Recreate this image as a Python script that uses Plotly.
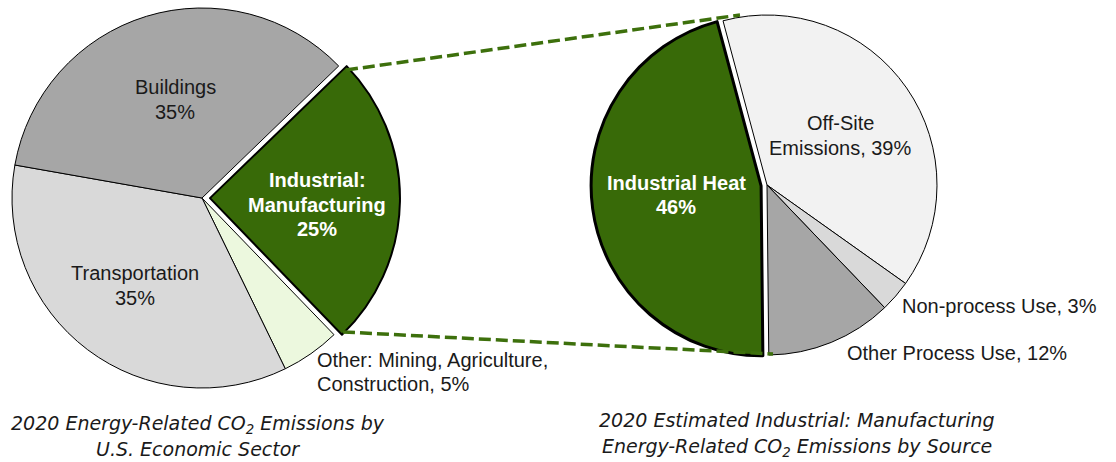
import plotly.graph_objects as go

W, H = 1116, 462

# ---------------- data ----------------
left_labels = ["Industrial:<br>Manufacturing", "Other: Mining, Agriculture,<br>Construction",
               "Transportation", "Buildings"]
left_values = [25, 5, 35, 35]
left_joins = ["<br>", ", ", "<br>", "<br>"]
left_colors = ["#386a08", "#ecf8de", "#d9d9d9", "#a6a6a6"]

right_labels = ["Off-Site<br>Emissions", "Non-process Use", "Other Process Use", "Industrial Heat"]
right_values = [39, 3, 12, 46]
right_joins = [", ", ", ", ", ", "<br>"]
right_colors = ["#f2f2f2", "#d9d9d9", "#a6a6a6", "#386a08"]

left_title = ["2020 Energy-Related CO<sub>2</sub> Emissions by", "U.S. Economic Sector"]
right_title = ["2020 Estimated Industrial: Manufacturing",
               "Energy-Related CO<sub>2</sub> Emissions by Source"]

# ---------------- layout helpers ----------------
def px(x):
    return x / W

def py(y):
    return 1 - y / H

FONT = "Liberation Sans, Arial, sans-serif"
TITLE_FONT = "DejaVu Sans, Verdana, sans-serif"

# pie geometry (pixels)
L_CX, L_CY, L_R, L_PULL = 202, 198, 190, 0.042
R_CX, R_CY, R_R, R_PULL = 767, 185, 170, 0.035

def domain(cx, cy, r, pull):
    half = r * (1 + pull)
    return dict(x=[px(cx - half), px(cx + half)], y=[py(cy + half), py(cy - half)])

fig = go.Figure()

fig.add_trace(go.Pie(
    labels=left_labels, values=left_values, sort=False, direction="clockwise",
    rotation=46, textinfo="none", hoverinfo="label+percent",
    pull=[L_PULL, 0, 0, 0],
    marker=dict(colors=left_colors, line=dict(color=["#000000"] * 4, width=[2, 1, 1, 1])),
    domain=domain(L_CX, L_CY, L_R, L_PULL), showlegend=False,
))

fig.add_trace(go.Pie(
    labels=right_labels, values=right_values, sort=False, direction="clockwise",
    rotation=345, textinfo="none", hoverinfo="label+percent",
    pull=[0, 0, 0, R_PULL],
    marker=dict(colors=right_colors, line=dict(color=["#000000"] * 4, width=[1, 1, 1, 3])),
    domain=domain(R_CX, R_CY, R_R, R_PULL), showlegend=False,
))

# ---------------- labels ----------------
def label_text(labels, values, joins, i):
    return f"{labels[i]}{joins[i]}{values[i]}%"

# (index, x, first line y, line step, xanchor, bold/white)
left_pos = [(0, 317, 180, 24.5, "center", True), (1, 315, 360, 24, "left", False),
            (2, 135, 273, 25, "center", False), (3, 175, 87, 25, "center", False)]
right_pos = [(0, 840, 123, 25, "center", False), (1, 900, 305.5, 25, "left", False),
             (2, 845, 352.5, 25, "left", False), (3, 676, 182.5, 25, "center", True)]

annotations = []
for (labels, values, joins, pos) in [(left_labels, left_values, left_joins, left_pos),
                                      (right_labels, right_values, right_joins, right_pos)]:
    for i, x, y0, step, xa, bold in pos:
        lines = label_text(labels, values, joins, i).split("<br>")
        for k, ln in enumerate(lines):
            t = f"<b>{ln}</b>" if bold else ln
            annotations.append(dict(
                x=px(x), y=py(y0 + k * step), xref="paper", yref="paper", text=t,
                showarrow=False, xanchor=xa, yanchor="middle",
                font=dict(family=FONT, size=20, color="#ffffff" if bold else "#1a1a1a"),
            ))

for lines, x, y0, step in [(left_title, 198, 424, 25), (right_title, 797, 420, 27)]:
    for k, ln in enumerate(lines):
        annotations.append(dict(
            x=px(x), y=py(y0 + k * step), xref="paper", yref="paper", text=f"<i>{ln}</i>",
            showarrow=False, xanchor="center", yanchor="middle",
            font=dict(family=TITLE_FONT, size=19, color="#1a1a1a"),
        ))

# ---------------- connector lines ----------------
shapes = []
for (x0, y0, x1, y1) in [(346, 70, 740, 15), (343, 332, 773, 354)]:
    shapes.append(dict(type="line", xref="paper", yref="paper",
                       x0=px(x0), y0=py(y0), x1=px(x1), y1=py(y1),
                       line=dict(color="#3d700c", width=3.5, dash="12px,5px"), layer="above"))

fig.update_layout(
    width=W, height=H, margin=dict(l=0, r=0, t=0, b=0),
    paper_bgcolor="#ffffff", plot_bgcolor="#ffffff",
    annotations=annotations, shapes=shapes, showlegend=False,
)

fig.write_html("out.html")
